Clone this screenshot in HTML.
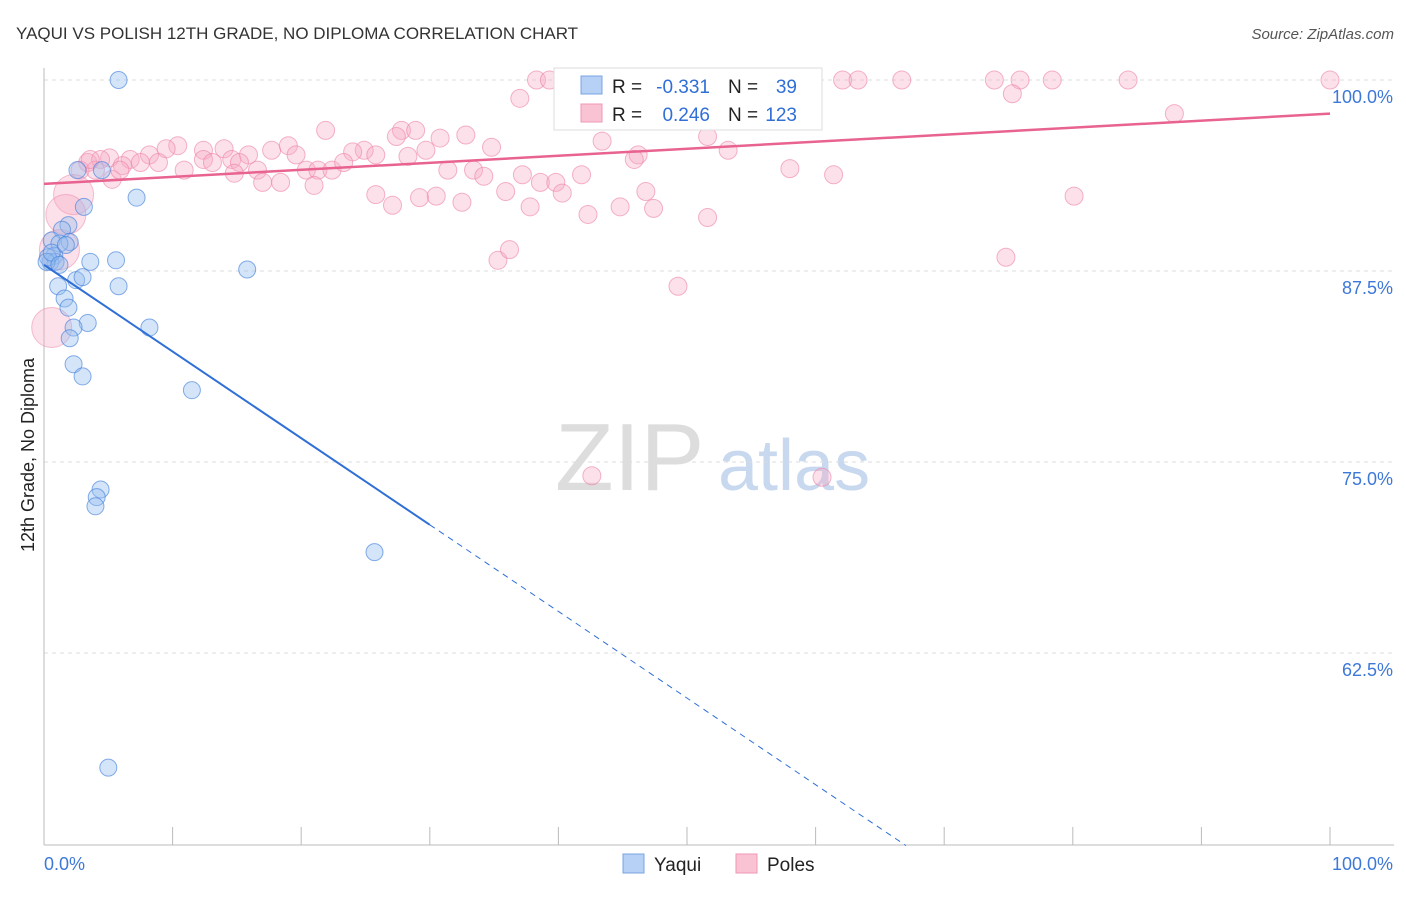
<!DOCTYPE html>
<html><head><meta charset="utf-8"><style>
body{margin:0;background:#fff;font-family:"Liberation Sans",sans-serif}
svg text{font-family:"Liberation Sans",sans-serif}
</style></head><body>
<svg id="c" width="1406" height="892" xmlns="http://www.w3.org/2000/svg">
<text x="16" y="39" font-size="17" fill="#333">YAQUI VS POLISH 12TH GRADE, NO DIPLOMA CORRELATION CHART</text>
<text x="1394" y="39" font-size="15" fill="#555" font-style="italic" text-anchor="end">Source: ZipAtlas.com</text>
<text x="34" y="455" font-size="18" fill="#222" text-anchor="middle" transform="rotate(-90 34 455)">12th Grade, No Diploma</text>
<text x="555" y="490" font-size="96" fill="#ddd" font-family="Liberation Serif">ZIP</text>
<text x="718" y="490" font-size="72" fill="#c8d8ef">atlas</text>
<g id="grid"></g><g id="pts"></g><g id="lines"></g>
<g>
<rect x="554" y="68" width="268" height="62" fill="#fff" stroke="#ddd"/>
<rect x="581" y="76" width="21" height="18" fill="#b7d0f5" stroke="#7aa4e0"/>
<rect x="581" y="104" width="21" height="18" fill="#f9c3d4" stroke="#ef97b4"/>
<text x="612" y="93" font-size="19" fill="#222">R =</text>
<text x="710" y="93" font-size="19" fill="#2f6fd6" text-anchor="end">-0.331</text>
<text x="728" y="93" font-size="19" fill="#222">N =</text>
<text x="797" y="93" font-size="19" fill="#2f6fd6" text-anchor="end">39</text>
<text x="612" y="121" font-size="19" fill="#222">R =</text>
<text x="710" y="121" font-size="19" fill="#2f6fd6" text-anchor="end">0.246</text>
<text x="728" y="121" font-size="19" fill="#222">N =</text>
<text x="797" y="121" font-size="19" fill="#2f6fd6" text-anchor="end">123</text>
</g>
<g>
<rect x="623" y="854" width="21" height="19" fill="#b7d0f5" stroke="#7aa4e0"/>
<text x="654" y="871" font-size="19" fill="#222">Yaqui</text>
<rect x="736" y="854" width="21" height="19" fill="#f9c3d4" stroke="#ef97b4"/>
<text x="767" y="871" font-size="19" fill="#222">Poles</text>
</g>
</svg>
<script>
const yTicks=[100,87.5,75,62.5];
const yTickLabels=["100.0%","87.5%","75.0%","62.5%"];
const xTickVals=[0,10,20,30,40,50,60,70,80,90,100];
const blueX=[5.8,7.2,3.1,1.9,1.4,2.0,0.6,1.2,0.8,0.5,0.9,3.6,5.6,15.8,2.6,4.5,2.5,3.0,1.1,5.8,1.6,1.9,3.4,2.3,8.2,2.0,2.3,3.0,11.5,4.4,4.1,4.0,25.7,5.0,0.3,0.2,0.6,1.2,1.7];
const blueY=[100,92.3,91.7,90.5,90.2,89.4,89.5,89.3,88.5,88.1,88.1,88.1,88.2,87.6,94.1,94.1,86.9,87.1,86.5,86.5,85.7,85.1,84.1,83.8,83.8,83.1,81.4,80.6,79.7,73.2,72.7,72.1,69.1,55.0,88.4,88.1,88.7,87.9,89.2];
const pinkX=[38.3,39.3,41.3,43.2,44.6,48.2,50.2,53.8,55.1,62.1,63.3,66.7,73.9,75.9,78.4,84.3,100,37.0,41.1,75.3,87.9,54.9,21.9,27.8,28.9,32.8,30.8,27.4,24.9,24.0,34.8,29.7,43.4,51.6,53.2,46.2,10.4,9.5,12.4,14.0,15.9,17.7,19.0,19.6,8.2,6.7,5.1,3.4,4.4,6.1,7.5,8.9,10.9,12.4,13.1,14.6,15.2,16.6,18.4,20.4,21.3,22.4,23.3,25.8,28.3,31.4,33.4,34.2,37.2,38.6,39.8,41.8,45.9,58.0,61.4,14.8,17.0,5.3,21.0,25.8,27.1,29.2,30.5,32.5,35.9,37.8,40.3,42.3,44.8,46.8,47.4,51.6,80.1,35.3,36.2,49.3,74.8,42.6,60.5,2.8,4.0,5.9,3.6];
const pinkY=[100,100,100,100,100,100,100,100,100,100,100,100,100,100,100,100,100,98.8,98.7,99.1,97.8,98.8,96.7,96.7,96.7,96.4,96.2,96.3,95.4,95.3,95.6,95.4,96.0,96.3,95.4,95.1,95.7,95.5,95.4,95.5,95.1,95.4,95.7,95.1,95.1,94.8,94.9,94.6,94.8,94.4,94.6,94.6,94.1,94.8,94.6,94.8,94.6,94.1,93.3,94.1,94.1,94.1,94.6,95.1,95.0,94.1,94.1,93.7,93.8,93.3,93.3,93.8,94.8,94.2,93.8,93.9,93.3,93.5,93.1,92.5,91.8,92.3,92.4,92.0,92.7,91.7,92.6,91.2,91.7,92.7,91.6,91.0,92.4,88.2,88.9,86.5,88.4,74.1,74.0,94.1,94.1,94.1,94.8];
const bigPinkX=[2.3,1.7,1.2,0.6];
const bigPinkY=[92.5,91.2,88.9,83.8];
const blueFit=[87.9,-0.567];  // intercept, slope per % x
const pinkFit=[93.2,4.6];     // value at x=0, rise over 100%
const NS="http://www.w3.org/2000/svg";
const X=v=>44+v*12.86, Y=v=>80+(100-v)*15.28;
function mk(t,a,p){const e=document.createElementNS(NS,t);for(const k in a)e.setAttribute(k,a[k]);p.appendChild(e);return e;}
const grid=document.getElementById('grid'),pts=document.getElementById('pts'),lines=document.getElementById('lines');
yTicks.forEach((v,i)=>{
 const l=mk('line',{x1:44,x2:1394,y1:Y(v),y2:Y(v),stroke:'#ddd','stroke-dasharray':'4 4'},grid);
 
 
 const t=mk('text',{x:1393,y:Y(v)+23,'font-size':18,fill:'#3d78d8','text-anchor':'end'},grid);t.textContent=yTickLabels[i];
 
 
});
mk('line',{x1:44,x2:44,y1:68,y2:845,stroke:'#bbb'},grid);
mk('line',{x1:44,x2:1394,y1:845,y2:845,stroke:'#bbb'},grid);
xTickVals.forEach(v=>{const l=mk('line',{x1:X(v),x2:X(v),y1:827,y2:845,stroke:'#bbb'},grid);
 
 });
let t=mk('text',{x:44,y:870,'font-size':18,fill:'#3d78d8'},grid);t.textContent='0.0%';


t=mk('text',{x:1393,y:870,'font-size':18,fill:'#3d78d8','text-anchor':'end'},grid);t.textContent='100.0%';


pinkX.forEach((x,i)=>{const c=mk('circle',{cx:X(x),cy:Y(pinkY[i]),r:9,fill:'rgba(246,170,196,0.35)',stroke:'rgba(236,130,166,0.6)'},pts);
 
 });
bigPinkX.forEach((x,i)=>{const c=mk('circle',{cx:X(x),cy:Y(bigPinkY[i]),r:20,fill:'rgba(246,170,196,0.35)',stroke:'rgba(236,130,166,0.5)'},pts);
 
 });
blueX.forEach((x,i)=>{const c=mk('circle',{cx:X(x),cy:Y(blueY[i]),r:8.5,fill:'rgba(150,190,240,0.4)',stroke:'rgba(70,130,220,0.65)'},pts);
 
 });
const bY=x=>blueFit[0]+x*blueFit[1];
const xEnd=(blueFit[0]-49.9)/(-blueFit[1]);
let l=mk('line',{x1:X(0),y1:Y(bY(0)),x2:X(30),y2:Y(bY(30)),stroke:'#2f6fd6','stroke-width':2},lines);


l=mk('line',{x1:X(30),y1:Y(bY(30)),x2:X(xEnd),y2:Y(bY(xEnd)),stroke:'#2f6fd6','stroke-width':1,'stroke-dasharray':'6 5'},lines);


l=mk('line',{x1:X(0),y1:Y(pinkFit[0]),x2:X(100),y2:Y(pinkFit[0]+pinkFit[1]),stroke:'#e8638f','stroke-width':2.5},lines);


</script>
</body></html>
